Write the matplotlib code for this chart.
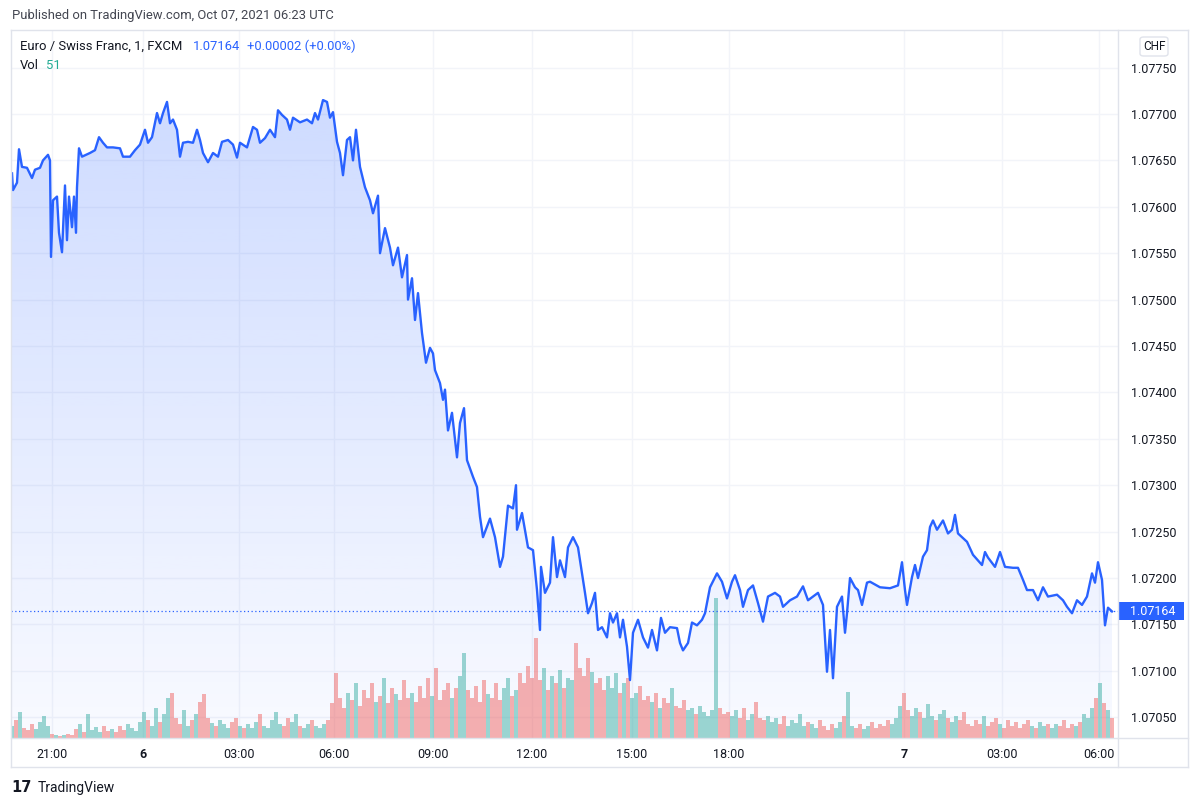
"""EUR/CHF 1-minute area chart with volume, TradingView style"""

import numpy as np
import matplotlib
matplotlib.use("Agg")
import matplotlib.pyplot as plt
from matplotlib.patches import Rectangle, FancyBboxPatch
from matplotlib.lines import Line2D

plt.rcParams["font.family"] = ["Roboto", "DejaVu Sans"]

# -----------------------------------------------------------------------------
# Data (x = bar slot on the chart's index axis)
bar = [0, 1, 5, 7, 10, 15, 20, 23, 28, 31, 36, 38, 39, 41, 45, 47, 50, 53, 55,
       57, 60, 62, 64, 65, 67, 70, 78, 83, 87, 91, 95, 101, 108, 111, 118, 123,
       128, 133, 136, 140, 145, 148, 151, 155, 158, 161, 165, 168, 171, 176,
       181, 185, 188, 191, 196, 201, 206, 210, 216, 221, 225, 228, 235, 241,
       245, 248, 253, 258, 263, 266, 270, 275, 278, 281, 288, 295, 300, 303,
       306, 311, 315, 318, 321, 325, 328, 331, 335, 338, 341, 344, 348, 353,
       358, 361, 366, 368, 373, 378, 381, 386, 390, 395, 396, 400, 403, 406,
       410, 414, 418, 421, 423, 428, 431, 433, 436, 440, 445, 448, 452, 455,
       461, 465, 468, 471, 478, 483, 488, 491, 496, 501, 504, 505, 510, 516,
       521, 525, 528, 529, 533, 538, 541, 545, 548, 553, 556, 561, 566, 570,
       573, 576, 580, 583, 586, 590, 595, 598, 601, 605, 608, 611, 615, 618,
       621, 626, 631, 636, 640, 645, 649, 653, 658, 665, 668, 671, 676, 680,
       685, 690, 693, 698, 705, 710, 715, 720, 723, 728, 731, 736, 741, 746,
       751, 756, 763, 768, 771, 778, 785, 791, 796, 801, 806, 811, 815, 818,
       821, 825, 830, 833, 835, 838, 843, 846, 850, 855, 858, 868, 878, 886,
       890, 893, 895, 900, 903, 906, 911, 915, 918, 921, 925, 931, 936, 940,
       943, 946, 955, 961, 970, 973, 976, 983, 988, 993, 1001, 1006, 1011,
       1015, 1021, 1026, 1031, 1036, 1045, 1051, 1055, 1060, 1065, 1070, 1075,
       1080, 1083, 1086, 1090, 1093, 1096, 1100]

price = [1.07636, 1.07618, 1.07626, 1.07662, 1.07643, 1.07642, 1.07631,
         1.07640, 1.07642, 1.07650, 1.07656, 1.07650, 1.07546, 1.07607,
         1.07611, 1.07572, 1.07551, 1.07623, 1.07564, 1.07611, 1.07578,
         1.07611, 1.07572, 1.07621, 1.07663, 1.07654, 1.07658, 1.07661,
         1.07675, 1.07669, 1.07664, 1.07664, 1.07663, 1.07654, 1.07654,
         1.07661, 1.07667, 1.07683, 1.07669, 1.07675, 1.07701, 1.07690,
         1.07701, 1.07713, 1.07690, 1.07694, 1.07683, 1.07654, 1.07669,
         1.07670, 1.07669, 1.07683, 1.07672, 1.07658, 1.07648, 1.07658,
         1.07654, 1.07670, 1.07672, 1.07667, 1.07653, 1.07669, 1.07664,
         1.07686, 1.07683, 1.07669, 1.07674, 1.07683, 1.07675, 1.07704,
         1.07699, 1.07694, 1.07683, 1.07696, 1.07691, 1.07694, 1.07690,
         1.07701, 1.07694, 1.07715, 1.07713, 1.07696, 1.07702, 1.07670,
         1.07658, 1.07634, 1.07672, 1.07675, 1.07650, 1.07683, 1.07643,
         1.07621, 1.07607, 1.07593, 1.07612, 1.07550, 1.07577, 1.07556,
         1.07537, 1.07556, 1.07524, 1.07548, 1.07500, 1.07523, 1.07478,
         1.07507, 1.07464, 1.07432, 1.07448, 1.07442, 1.07424, 1.07410,
         1.07392, 1.07403, 1.07359, 1.07378, 1.07330, 1.07367, 1.07383,
         1.07327, 1.07309, 1.07298, 1.07266, 1.07244, 1.07264, 1.07244,
         1.07212, 1.07223, 1.07278, 1.07275, 1.07300, 1.07252, 1.07270,
         1.07233, 1.07230, 1.07187, 1.07144, 1.07212, 1.07184, 1.07195,
         1.07244, 1.07201, 1.07219, 1.07201, 1.07233, 1.07244, 1.07233,
         1.07205, 1.07184, 1.07162, 1.07173, 1.07184, 1.07144, 1.07147,
         1.07136, 1.07162, 1.07152, 1.07162, 1.07136, 1.07155, 1.07126,
         1.07090, 1.07141, 1.07155, 1.07136, 1.07125, 1.07144, 1.07122,
         1.07157, 1.07141, 1.07147, 1.07146, 1.07130, 1.07122, 1.07130,
         1.07152, 1.07149, 1.07155, 1.07162, 1.07190, 1.07205, 1.07196,
         1.07178, 1.07196, 1.07203, 1.07187, 1.07169, 1.07187, 1.07192,
         1.07173, 1.07153, 1.07180, 1.07184, 1.07180, 1.07169, 1.07176,
         1.07180, 1.07191, 1.07176, 1.07180, 1.07184, 1.07171, 1.07099,
         1.07144, 1.07092, 1.07169, 1.07180, 1.07141, 1.07162, 1.07200,
         1.07190, 1.07187, 1.07171, 1.07195, 1.07196, 1.07190, 1.07189,
         1.07192, 1.07217, 1.07187, 1.07171, 1.07201, 1.07214, 1.07200,
         1.07223, 1.07230, 1.07255, 1.07262, 1.07252, 1.07262, 1.07248,
         1.07252, 1.07268, 1.07248, 1.07239, 1.07225, 1.07214, 1.07228,
         1.07222, 1.07212, 1.07228, 1.07212, 1.07211, 1.07211, 1.07198,
         1.07187, 1.07187, 1.07176, 1.07190, 1.07180, 1.07182, 1.07176,
         1.07169, 1.07162, 1.07176, 1.07171, 1.07180, 1.07205, 1.07195,
         1.07217, 1.07198, 1.07149, 1.07168, 1.07164]

# volume, one value per group of 4 bar slots
vol = [12, 18, 26, 10, 8, 14, 9, 16, 22, 12,
       4, 3, 2, 3, 4, 3, 9, 14, 6, 24,
       8, 11, 6, 12, 7, 9, 6, 12, 8, 14,
       10, 7, 16, 26, 18, 12, 30, 16, 24, 40,
       45, 20, 14, 28, 12, 18, 24, 36, 44, 20,
       15, 12, 18, 14, 10, 16, 20, 12, 10, 14,
       10, 16, 24, 12, 10, 18, 26, 14, 12, 20,
       16, 24, 12, 10, 14, 18, 12, 10, 14, 18,
       35, 65, 40, 30, 45, 38, 55, 32, 48, 40,
       55, 36, 42, 60, 35, 50, 44, 38, 58, 40,
       45, 36, 52, 40, 60, 42, 70, 38, 48, 55,
       40, 50, 62, 85, 48, 40, 52, 36, 58, 44,
       40, 55, 38, 50, 60, 42, 48, 65, 55, 72,
       60, 100, 58, 70, 48, 62, 55, 68, 50, 60,
       58, 95, 70, 62, 80, 66, 55, 60, 48, 62,
       50, 65, 45, 55, 60, 40, 45, 52, 38, 42,
       36, 45, 30, 40, 35, 50, 32, 30, 38, 28,
       30, 24, 32, 26, 22, 28, 140, 30, 24, 26,
       22, 28, 20, 30, 18, 24, 36, 20, 18, 22,
       16, 20, 14, 22, 12, 18, 15, 24, 12, 16,
       14, 10, 18, 12, 8, 14, 10, 16, 22, 46,
       12, 10, 14, 9, 12, 16, 10, 14, 12, 18,
       14, 20, 32, 45, 28, 22, 30, 26, 20, 34,
       22, 18, 24, 28, 20, 16, 22, 18, 26, 14,
       12, 18, 14, 22, 12, 16, 20, 14, 10, 18,
       12, 16, 10, 14, 18, 12, 10, 16, 12, 14,
       10, 14, 12, 18, 10, 14, 12, 16, 24, 20,
       30, 40, 55, 35, 28, 20]
VOL_STEP = 4

tick_bars = [40, 131, 227, 322, 421, 520, 620, 717, 892, 990, 1087]
tick_labels = ["21:00", "6", "03:00", "06:00", "09:00", "12:00", "15:00",
               "18:00", "7", "03:00", "06:00"]
price_ticks = [1.0705, 1.0710, 1.0715, 1.0720, 1.0725, 1.0730, 1.0735,
               1.0740, 1.0745, 1.0750, 1.0755, 1.0760, 1.0765, 1.0770, 1.0775]

LAST = 1.07164
XLIM = (-1, 1106)
YLIM = (1.070276, 1.077905)

BLUE = "#2962ff"
TEXT = "#131722"
GRID = "#f2f4f9"
BORDER = "#e0e3eb"
UP = "#26a69a"
DOWN = "#ef5350"

# =============================================================================
W, H = 1200, 807
DPI = 100
fig = plt.figure(figsize=(W / DPI, H / DPI), dpi=DPI)
fig.patch.set_facecolor("white")


def fx(px):
    return px / W


def fy(py):
    return 1 - py / H


PX0, PX1, PY0, PY1 = 11, 1118, 30, 738
ax = fig.add_axes([fx(PX0), fy(PY1), (PX1 - PX0) / W, (PY1 - PY0) / H])
ax.set_facecolor("white")

# -----------------------------------------------------------------------------
# Gradient area under the line
poly = ax.fill_between(bar, price, YLIM[0], facecolor="none",
                       edgecolor="none")
alpha = np.linspace(0.25, 0.03, 256)
rgba = np.zeros((256, 1, 4))
rgba[..., 0] = 41 / 255
rgba[..., 1] = 98 / 255
rgba[..., 2] = 1.0
rgba[:, 0, 3] = alpha
img = ax.imshow(rgba, aspect="auto", origin="upper", zorder=1,
                extent=[XLIM[0], XLIM[1], YLIM[0], YLIM[1]])
img.set_clip_path(poly.get_paths()[0], transform=ax.transData)

# -----------------------------------------------------------------------------
# Volume bars (drawn in the price axes, scaled to the bottom of the pane)
vx = np.arange(len(vol)) * VOL_STEP
p_now = np.interp(vx, bar, price)
p_prev = np.interp(vx - VOL_STEP, bar, price)
vcol = [UP if a >= b else DOWN for a, b in zip(p_now, p_prev)]
vol_scale = (YLIM[1] - YLIM[0]) / (PY1 - PY0)
ax.bar(vx, np.array(vol) * vol_scale, bottom=YLIM[0], width=3.7,
       color=vcol, alpha=0.45, linewidth=0, zorder=2)

# -----------------------------------------------------------------------------
# Price line and last price marker
ax.plot(bar, price, color=BLUE, linewidth=1.7, zorder=4,
        solid_joinstyle="round")
ax.axhline(LAST, color=BLUE, linewidth=0.9, linestyle=(0, (1, 2)), zorder=3)

ax.set_xlim(XLIM)
ax.set_ylim(YLIM)

# grid and ticks
ax.set_xticks(tick_bars)
ax.set_xticklabels(tick_labels)
ax.set_yticks(price_ticks)
ax.set_yticklabels(["{:.5f}".format(p) for p in price_ticks])
ax.yaxis.tick_right()
ax.grid(True, color=GRID, linewidth=1.0, zorder=0)
ax.set_axisbelow(True)
ax.tick_params(axis="y", length=0, pad=9, labelsize=9, labelcolor=TEXT)
ax.tick_params(axis="x", length=0, pad=7, labelsize=9, labelcolor=TEXT)
for lab in ax.get_xticklabels():
    if lab.get_text() in ("6", "7"):
        lab.set_fontweight("bold")
for s in ax.spines.values():
    s.set_visible(False)

# -----------------------------------------------------------------------------
# Chart frame
frame = [((PX0, PY0), (1188, PY0)), ((PX0, 767), (1188, 767)),
         ((PX0, PY0), (PX0, 767)), ((1188, PY0), (1188, 767)),
         ((PX1, PY0), (PX1, 767)), ((PX0, PY1), (1188, PY1))]
for (x0, y0), (x1, y1) in frame:
    fig.add_artist(Line2D([fx(x0), fx(x1)], [fy(y0), fy(y1)],
                          color=BORDER, linewidth=1.0))

# CHF box
fig.add_artist(FancyBboxPatch((fx(1140), fy(56)), fx(28), 19 / H,
                              boxstyle="round,pad=0,rounding_size=0.003",
                              facecolor="white", edgecolor=BORDER,
                              linewidth=1.0))
fig.text(fx(1154), fy(46.5), "CHF", ha="center", va="center", fontsize=8.5,
         color=TEXT)

# Last price tag
py_last = PY0 + (YLIM[1] - LAST) / (YLIM[1] - YLIM[0]) * (PY1 - PY0)
fig.add_artist(Rectangle((fx(PX1), fy(py_last + 9)), fx(66), 18 / H,
                         facecolor=BLUE, edgecolor="none"))
fig.text(fx(1130), fy(py_last), "{:.5f}".format(LAST), ha="left",
         va="center", fontsize=9, color="white")

# -----------------------------------------------------------------------------
# Header and legend
fig.text(fx(12), fy(16), "Published on TradingView.com, Oct 07, 2021 06:23 UTC",
         ha="left", va="center", fontsize=9.4, color="#434651")
fig.text(fx(20), fy(46.5), "Euro / Swiss Franc, 1, FXCM", ha="left",
         va="center", fontsize=9.4, color=TEXT)
fig.text(fx(193), fy(46.5), "1.07164", ha="left", va="center", fontsize=9.4,
         color=BLUE)
fig.text(fx(247), fy(46.5), "+0.00002 (+0.00%)", ha="left", va="center",
         fontsize=9.4, color=BLUE)
fig.text(fx(20), fy(65.5), "Vol", ha="left", va="center", fontsize=9.4,
         color=TEXT)
fig.text(fx(46), fy(65.5), "51", ha="left", va="center", fontsize=9.4,
         color="#22ab94")

# Footer
fig.text(fx(11), fy(788), "17", ha="left", va="center", fontsize=10.5,
         fontweight="heavy", color=TEXT, family="DejaVu Sans")
fig.text(fx(38), fy(788), "TradingView", ha="left", va="center",
         fontsize=10, color=TEXT)

fig.savefig("out.png", dpi=DPI)
